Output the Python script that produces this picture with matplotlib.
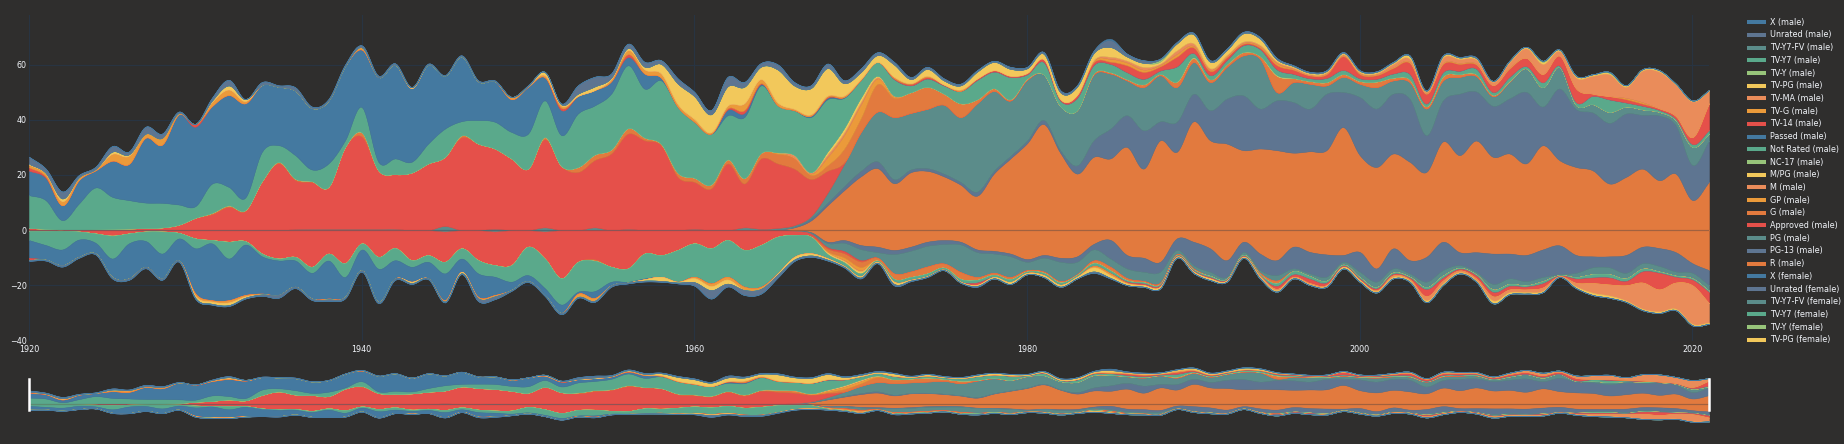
import numpy as np
import matplotlib
matplotlib.use("Agg")
import matplotlib.pyplot as plt
from matplotlib.lines import Line2D

plt.rcParams['font.family'] = ['DejaVu Sans']

years = np.arange(1920, 2022)

# ---------------- data: male (positive stack) ----------------
R_m = [0]*45 + [.3, 1, 3.5, 9, 14.5,
    19.5, 22.5, 17, 21, 21.5, 19.5, 16.5, 12.5, 20.5, 26,
    31.5, 38.5, 28, 20.5, 26.6, 26, 30.2, 22.3, 32.6, 28.4,
    39.5, 32.6, 31.4, 29, 29.6, 29, 28.1, 28.6, 29, 37.4,
    27.2, 22.9, 27.8, 24.8, 21.1, 32.2, 27.2, 32.5, 26.6, 27.8,
    24.2, 30.8, 25.4, 22.9, 21.7, 16.9, 19.3, 22.3, 18.1, 20.5,
    10.9, 17.5]
PG13_m = [0]*46 + [.3, .8, 1, 1.5,
    2, 2.5, 1.5, 1, 1, 1, 1, 1.5, 1, 1,
    1, 1.5, 1, 3, 6, 10.8, 11.5, 13.9, 6.9, 10.9,
    10, 10.9, 16.3, 19.9, 14.5, 18.1, 18.4, 15.5, 20.5, 12.7,
    21.1, 21.2, 21.7, 22.9, 13.3, 14.9, 22.3, 17.8, 18.5, 20,
    26, 14, 26, 21, 21, 22, 23, 19.5, 23.5, 17.5,
    12.7, 15]
PG_m = [0]*16 + [.4, .5, .5, .5,
    .5, .5, .5, 0, 0, 1.5, 0, 0, .5, 0,
    0, 1, 0, 0, 1, 0, .5, 0, 0, 0,
    .5, 0, 0, 1, .5, .5, .5, .7, 3.5, 8,
    14, 18, 22.5, 20.5, 21.5, 25, 23.5, 32, 29, 20,
    22, 16.5, 16, 20, 23.8, 20, 12.6, 15.7, 16.7, 12.6,
    11.5, 10.2, 11.5, 14.5, 18.1, 3, 7.2, 9, 3, 5.5,
    4.8, 7.8, 4.8, 6, 9.7, 7.2, 6.1, 5.6, 3.5, 6,
    8.5, 7, 7.8, 1.5, 3, 4, 2.5, 2, 1.3, 1.9,
    6.6, 2.5]
Approved_m = [.8, .5, .2, .2, .3, .5, .6, .8, 1, 2,
    4.5, 5.8, 8.5, 7, 17.5, 24.3, 17.8, 17, 15.2, 29.7,
    33.5, 21.2, 19.8, 20.9, 24.2, 25.1, 33.7, 31.4, 29.1, 26,
    22.3, 32, 23.3, 21.1, 24.4, 27.8, 34.5, 32.6, 30.8, 19.3,
    17, 15.1, 24.2, 15.9, 25.5, 23.4, 20.5, 13.5, 8, .5] + [0]*52
G_m = [0]*10 + [0, .5, .5, .3, .3, .5, .5, .3, 0, 0,
    1.5, 0, 0, 0, 0, 0, .7, 0, 0, 0,
    0, .8, 0, 1.8, 2, 1.5, 2, 1, .5, 1.5,
    1.5, 1.5, 1.5, 2, 2, 3.5, 4, 1.5, 2, 5,
    5, 10, 7, 7.5, 8, 4, 5, 1.5, 1, .5,
    .5, 0, 0, 0, .5, .5, .5, 1, .5, 2,
    1.5, 1, 1, 1.2, 1, 6, 1.5, 1, 1.2, 1,
    1, 2, 1, 1, .8, 1.5, 1, .7, .5, .3] + [0]*12
GP_m = {1965: .5, 1967: .5, 1968: 3, 1969: 5, 1970: 5, 1971: 2, 1972: .5}
M_m = {1966: 1, 1967: .5, 1968: 1, 1969: 1, 1970: 1, 1971: .5, 1972: .3}
MPG_m = {1968: 1, 1969: 1.5, 1970: 1.5, 1971: .5}
NC17_m = {1990: .3, 1995: .3}
NotRated_m = [11.9, 10.4, 3.4, 9.5, 15.2, 11.6, 10.3, 9.2, 8.9, 7.3,
    4.2, 10.6, 6.7, 4.5, 10.6, 6, 8.5, 4.2, 8.5, 2.4,
    9.2, 3.1, 5.7, 3.9, 7.2, 10.2, 5.1, 8.5, 9.7, 9.6,
    12.7, 13.3, 11.1, 19.4, 17.8, 20.2, 22.8, 17.7, 23, 23.9,
    20.3, 18.4, 16, 22.1, 24.5, 17.1, 16.2, 20, 19, 11,
    6.5, 5, 6, 2.5, 3, 3, 4.5, 7, 6, 8,
    1.5, 4.5, 2, 4.5, 3, 3, 2.5, 2, 1.2, 5.5,
    1.5, 1.5, 1.5, 2.5, 2.5, 2, 1.5, 1, 1.5, 1.5,
    1, 1, 1.5, 2, 1, 1.5, 1.2, 2, 1, 1.5,
    .8, 1.8, .5, 1, 3, 4.5, 1.5, 1.3, .7, .5,
    1, 1.3]
Passed_m = [8.9, 8.1, 5.4, 8.5, 6.2, 13.1, 13.1, 23.5, 21.1, 32.7,
    28.8, 28.1, 33.3, 34.2, 24.3, 21.2, 23.4, 22.3, 22.8, 26.9,
    20.8, 30.7, 34, 26.7, 28.6, 19.2, 23.5, 14.1, 14.7, 11.9,
    17, 8.4, 9.1, 6.4, 5.6, 4.5, 3, 5.5, 1, 0,
    0, 0, 2, 1.5, .5, 0, 0, .5, .5, .3] + [0]*52
TV14_m = [1.2, .5, 0, 0, 0, 0, 0, 0, 0, 0,
    1, 0, 0, 0, 0, 0, 0, 0, 0, 0,
    0, 0, 0, 0, 0, 0, 0, 0, 0, 0,
    0, 0, .8, 0, 0, 0, 1, 0, 0, 0,
    0, 0, .5, 1, .3, 0, 0, 0, .3, 0,
    0, 0, .3, .5, .5, .3, 0, .5, .5, .5,
    .5, 1, .5, 1, 1, .8, 2.5, 2.5, 1.5, 3.5,
    2, 1.5, 1, .5, .5, 1.5, 1.5, 1, 1.3, 5,
    1.5, 1.3, 2, 4, 3.5, 3, 2.5, 1.5, 2.5, 3,
    3, 3, 3.6, 5, .8, 1.2, 1.2, .8, .6, 1,
    2.5, 9.7]
TVG_m = [1, 1, 1.5, 1, .5, 2.5, 3, 1.5, 2.5, .5,
    0, 1.5, 2, .8, 0, 0, 0, 0, 0, 0,
    .8, 0, 0, 0, 0, 0, 0, 0, 0, .8,
    .3, .7, .8, 0, 0, .8, 1.5, 1.5, 1.5, 1,
    1, .5, 1, 2.5, 1.5, 1, .5, .5, .5, .5,
    .3, 0, .5, .3, .5, 0, .5, 0, 0, 0,
    0, 0, 0, 0, .5, 1, 1, .8, .5, 1,
    .5, .5, .3, .3, .5, .8, .3, .2, .3, .3,
    .3, .3, .3, .3, .2, .3, .3, .3, 0, .3,
    0, 0, 0, 0, 0, 0, .5, .5, 0, 0,
    0, 0]
TVMA_m = [0]*64 + [.3, .8, .7, 1, .5, 1.3,
    1, .5, .5, .5, .5, .5, .5, .3, .4, .4,
    .4, .4, 1.2, 1.2, .6, 2, 1.5, 1.5, 1.2, 2,
    3.5, 3.7, 1.7, 4, 6.5, 8, 4, 11.5, 13.3, 11.4,
    13, 4.5]
TVPG_m = [.3, .3, 1, 0, 0, .8, .5, 0, 0, 0,
    0, .5, 1.5, .7, 0, 0, 0, 0, 0, 0,
    0, 0, 0, .3, 0, 0, 0, 0, 0, 0,
    0, 1.2, .5, .8, 1.3, .5, .8, 1, 3.5, 7.5,
    8.3, 6.5, 7, 6, 4.5, 12, 8.5, 9.5, 10, 4.5,
    2.5, 2.5, 4.5, 1.5, 2.5, 1.5, 1.5, 2.5, 3, 2.5,
    1.7, 2, 2.5, 3, 2.5, 3.5, 1.5, 1.5, .7, 2.5,
    3.3, 2.4, 1.8, 3, 2.3, .8, .5, .5, .5, .5,
    .5, .5, .5, 1, .3, .6, .5, .5, .3, .5,
    .5, .7, .5, .6, .5, .5, .5, .5, .5, .3,
    .3, .3]
TVY_m = {1988: .8, 2011: .4}
TVY7_m = {2015: .3}
TVY7FV_m = {}
Unrated_m = [2.5, 1.5, 2.5, .8, .8, 2, 1, 2.5, 1.5, .5,
    0, 1, 2, 0, 1, .5, 1.2, .5, .5, .5,
    .7, .5, .5, .1, .4, .2, .4, .3, .3, 0,
    .2, 0, .3, 3, 3.5, 1.5, 1.5, 1.7, 1.3, 1.8,
    1.5, 1.5, 3.4, 1.7, 1.3, 1.8, 1.2, 1, 1.6, 1,
    1.3, 1, .9, .7, .7, .7, .6, .5, .4, .7,
    .5, .6, .7, .5, .8, 2.5, 1, .9, .3, .5,
    .5, .5, .5, .5, .5, .5, .3, .3, .3, .3,
    .2, .2, .2, .2, .2, .2, .2, .3] + [0]*14
X_m = {1985: .5}

# ---------------- data: female (negative stack, magnitudes) ----------------
R_f = [0]*46 + [.3, .7, 4.2, 3.6,
    5.4, 6, 7.2, 6, 4.2, 3.6, 4.2, 7, 7.5, 8.5,
    10.5, 9, 10, 9.5, 5, 3.5, 9, 10, 11.5, 3,
    4.2, 6.6, 10.9, 4.2, 8.5, 10.9, 6, 7.9, 8.8, 9,
    7.9, 13.9, 6.6, 10.9, 9.7, 4.2, 8, 8, 8.5, 8.5,
    9, 7, 5.5, 9, 9.5, 9.5, 9, 6, 6.5, 8,
    12, 14.5]
PG13_f = [0]*47 + [.3, .5, 1,
    1.5, 2, 1.5, 1.5, 1.5, 1.5, 1, 1, 1, 1,
    1, 1, 1.5, 2, 2, 6.8, 4.9, 5.1, 3.6, 4.2,
    8.5, 8.5, 6, 3.7, 6, 5.4, 7.9, 7.8, 8.1, 2.5,
    7.2, 4.8, 7.3, 4.8, 9, 10.3, 4.7, 7.1, 11, 9,
    9.5, 10, 10.5, 6.5, 4, 4, 6.5, 6, 6.5, 7,
    3.5, 5.5]
PG_f = [0]*25 + [.5, 0, 0, .5, 0,
    0, .5, 0, 0, 0, 0, 0, 0, 0, 0,
    0, 0, 0, 0, 0, 0, 0, .3, 1.5, 3,
    4, 2, 7, 7.5, 7.5, 7, 10, 9, 7, 7.5,
    3, 5, 7, 4.5, 4, 3, 3.5, 3.3, 4, 1.5,
    1.2, 1.5, .8, 1, 1, 2, 1, 1, 1.5, 1,
    2, 2, 1.5, 1.2, 2, 2, 1, 1, 2, 2,
    1.5, 1.5, .3, 1.5, 2.5, 2.5, 2, 2, 2, 1.5,
    2, 2]
Approved_f = [.3, .3, .2, .5, 1.2, 2, 1.2, .5, .5, 1,
    3, 3.6, 4.2, 4, 8.5, 10.3, 9.7, 13.3, 8.5, 12,
    4.8, 9.7, 6.5, 10.9, 9.1, 11, 6.6, 10.9, 12.2, 12.7,
    6, 9.8, 17.5, 11.5, 10.6, 13.3, 13.9, 8.5, 9.1, 7.2,
    4.8, 6.6, 3.6, 7.2, 5.4, 2.4, 1.5, .8, .5, .8,
    .5] + [0]*51
G_f = [0]*34 + [.5, 0, 0, 0, 0, 0,
    0, 0, 0, 0, 0, 0, 0, .3, 1, 1.5,
    2, 1, 2, 2, 2.5, 1.5, 2.5, 1, .7, .8,
    .5, .5, .5, .3, 1, 1.3, .8, .5, .5, .3,
    .4, 0, 0, 0, .5, 1] + [0]*26
GP_f = {1968: .5, 1969: 1, 1970: 1.2}
M_f = {1969: .3, 1970: .3}
MPG_f = {1968: .5, 1969: .5, 1970: .8}
NC17_f = {}
NotRated_f = [3.3, 5.1, 6.8, 2.9, 3.4, 8.3, 3.6, 3.4, 8, 2,
    3.6, 1.2, 6.1, 1.2, 1, .7, 1.3, 2.2, 2.5, 5,
    2.2, 4.3, 4.4, 2.4, 2.4, 4.2, 3.7, 4.8, 4.2, 6,
    10.3, 10.7, 9.5, 10.8, 11, 5.4, 4.8, 9, 7.8, 11.5,
    12.1, 12.7, 13.3, 13.3, 15.1, 13.3, 7.9, 6, 1.5, 1.3,
    1, .5, 1, 1, 1, .7, 1, 1, .8, 1,
    .5, .8, .8, .6, 1, 1, .5, .5, .4, .3,
    .4, .5, .3, .4, .5, 1, 1.2, 1, .7, .4,
    .5, .5, .5, .4, .8, .8, .4, .4, 1, .8,
    .5, .8, .2, .6, 1.2, 1.2, 1, 1, .5, .5,
    .5, .5]
Passed_f = [6.4, 5.3, 5.7, 6.3, 3.9, 6.7, 12.7, 9.4, 9, 7.9,
    16.4, 20.6, 15.1, 18.3, 13.5, 12.5, 9.5, 9.3, 13.8, 7.2,
    7.5, 12, 6.6, 5.4, 6, 9.7, 4.8, 8.5, 6.6, 3,
    2.2, 2.5, 3, .7, 2.5, 1.3, .3, .3] + [0]*64
TV14_f = [.8] + [0]*56 + [.8, 0, 0,
    0, 0, 0, 0, 0, 0, .3, .5, .5, .3,
    .3, .4, .3, .3, 0, 1, .8, 1.5, .8, .4,
    .5, .6, .5, .5, 2.5, 1, .5, 1, 1.5, 1.2,
    1, 1.5, .2, 1.5, 2, 2.5, 1.5, 4, 6, 2,
    2, 4]
TVG_f = {1930: .8, 1931: .5, 1932: .8, 1933: .5, 1934: .3, 1938: .3, 1945: .5,
         1947: .5, 1948: .5, 1953: 1.2, 1954: 1, 1960: .5, 1961: 1, 1962: 1,
         1963: 1.2, 1964: .8, 1984: .5, 1985: .7, 1986: .3}
TVMA_f = [0]*74 + [.5, .5, .3, .4, .3, 0,
    0, .3, .5, .4, 1.5, 1, .6, .7, 1.5, 1,
    1, 1.2, .2, 1.3, 3.5, 4, 5.5, 9.5, 8, 9.5,
    14, 7]
TVPG_f = [0]*10 + [.8, .8, 1, .5, 0, 0, 0, 0, 0, 0,
    0, 0, 0, .5, 0, 0, .5, 0, 0, 0,
    0, 0, 0, 0, 0, 0, 0, .5, 1.5, .3,
    1.5, 1.5, 1.5, 0, 0, .5, 1, .8, .5, .3,
    .5, .3, .8, .3, .2, .2, .3, .4, .5, .7,
    .5, .7, .7, .6, 1.5, 1, .6, .6, .6, .4,
    .5, .6, .4, .4, .5, .5, .3, .3, .3, .6,
    .6, .5, .6, .5, .6, .6, .5, .5, 1, .7,
    .5, .5, .1, .6, .8, .8, .5, .5, .5, .5,
    .5, .5]
TVY_f = {}
TVY7_f = {}
TVY7FV_f = {}
Unrated_f = [.3, .3, .5, .3, .3, .5, .5, .5, .5, .5,
    .3, .3, .3, .3, .5, 1, .5, .5, .5, .5,
    .5, .5, .5, .3, .3, .3, .3, 1, 1, .3,
    .3, .3, .5, .3, .4, .5, .3, .3, .3, .3,
    1.2, 3, 1, 1.8, 1.7, 1, .5, .5, .3, .2,
    .3, .2, .5, .2, .1, 0, 0, .3, 0, 0,
    0, 0, 0, 0, .5, .2] + [0]*36
X_f = {}

# trace order (bottom of stack first)
ratings = ['R', 'PG-13', 'PG', 'Approved', 'G', 'GP', 'M', 'M/PG', 'NC-17', 'Not Rated',
           'Passed', 'TV-14', 'TV-G', 'TV-MA', 'TV-PG', 'TV-Y', 'TV-Y7', 'TV-Y7-FV', 'Unrated', 'X']
male = [R_m, PG13_m, PG_m, Approved_m, G_m, GP_m, M_m, MPG_m, NC17_m, NotRated_m,
        Passed_m, TV14_m, TVG_m, TVMA_m, TVPG_m, TVY_m, TVY7_m, TVY7FV_m, Unrated_m, X_m]
female = [R_f, PG13_f, PG_f, Approved_f, G_f, GP_f, M_f, MPG_f, NC17_f, NotRated_f,
          Passed_f, TV14_f, TVG_f, TVMA_f, TVPG_f, TVY_f, TVY7_f, TVY7FV_f, Unrated_f, X_f]

colors = {
    'X': '#4479a0', 'Unrated': '#5e7591', 'TV-Y7-FV': '#5b8c8a', 'TV-Y7': '#5aa98b',
    'TV-Y': '#97c47a', 'TV-PG': '#f2c85b', 'TV-MA': '#ea8c5a', 'TV-G': '#eb9a3a',
    'TV-14': '#e5504a', 'Passed': '#4479a0', 'Not Rated': '#5aa98b', 'NC-17': '#97c47a',
    'M/PG': '#f2c85b', 'M': '#ea8c5a', 'GP': '#eb9a3a', 'G': '#e27a3e',
    'Approved': '#e5504a', 'PG': '#5b8c8a', 'PG-13': '#5e7591', 'R': '#e27a3e'}


def as_array(v):
    if isinstance(v, dict):
        return np.array([float(v.get(int(y), 0)) for y in years])
    a = np.asarray(v, dtype=float)
    assert len(a) == len(years), len(a)
    return a


def spline(x, y, n=10):
    """Cardinal (Catmull-Rom) spline through the points, like plotly's line shape 'spline'."""
    m = np.gradient(y, x)
    t = np.linspace(0, 1, n, endpoint=False)
    h00 = 2*t**3 - 3*t**2 + 1
    h10 = t**3 - 2*t**2 + t
    h01 = -2*t**3 + 3*t**2
    h11 = t**3 - t**2
    dx = np.diff(x)[:, None]
    ys = (h00*y[:-1, None] + h10*dx*m[:-1, None] + h01*y[1:, None] + h11*dx*m[1:, None]).ravel()
    xs = (x[:-1, None] + dx*t).ravel()
    return np.append(xs, x[-1]), np.append(ys, y[-1])


def draw_stack(axis, group, sign):
    base = np.zeros(len(years))
    xs, base_s = spline(years.astype(float), base)
    for name, vals in zip(ratings, group):
        top = base + sign*as_array(vals)
        _, top_s = spline(years.astype(float), top)
        c = colors[name]
        axis.fill_between(xs, base_s, top_s, facecolor=c, edgecolor=c, linewidth=0.35, zorder=2)
        base, base_s = top, top_s


BG = '#2f2e2d'
GRID = '#283442'
TXT = '#f2f5fa'
FS = 5.8
W, H = 1844, 444

fig = plt.figure(figsize=(W/100, H/100), dpi=100, facecolor=BG)
ax = fig.add_axes([29/W, (H-340.5)/H, 1680/W, 325.5/H], facecolor=BG)
sl = fig.add_axes([29/W, (H-424.5)/H, 1680/W, 60.3/H], facecolor=BG)

for a in (ax, sl):
    draw_stack(a, male, 1)
    draw_stack(a, female, -1)
    a.set_xlim(1920, 2021)
    a.set_ylim(-40, 78)
    for s in a.spines.values():
        s.set_visible(False)
    a.axhline(0, color=GRID, alpha=0.3, lw=0.9, zorder=5)

ax.set_axisbelow(True)
ax.set_xticks([1920, 1940, 1960, 1980, 2000, 2020])
ax.set_yticks([-40, -20, 0, 20, 40, 60])
ax.grid(True, color=GRID, lw=0.8, zorder=0)
ax.tick_params(length=0, colors=TXT, labelsize=FS)
ax.tick_params(axis='y', pad=1.5)
ax.tick_params(axis='x', pad=3)

sl.set_xticks([])
sl.set_yticks([])
for xv in (1920, 2021):
    sl.axvline(xv, ymin=0.24, ymax=0.755, color='white', lw=1.8, clip_on=False, zorder=6)

# legend (plotly reverses order for stacked traces; the list is cut off at the bottom)
entries = [(r + ' (male)', colors[r]) for r in ratings[::-1]]
entries += [(r + ' (female)', colors[r]) for r in ratings[::-1]]
entries = entries[:26]
for i, (lab, col) in enumerate(entries):
    yf = (H - (22.3 + 12.7*i))/H
    fig.add_artist(Line2D([1747/W, 1766/W], [yf, yf], color=col, lw=2.9,
                          solid_capstyle='butt', transform=fig.transFigure))
    fig.text(1770/W, yf, lab, ha='left', va='center', fontsize=FS, color=TXT)

fig.savefig('out.png', dpi=100, facecolor=BG)
